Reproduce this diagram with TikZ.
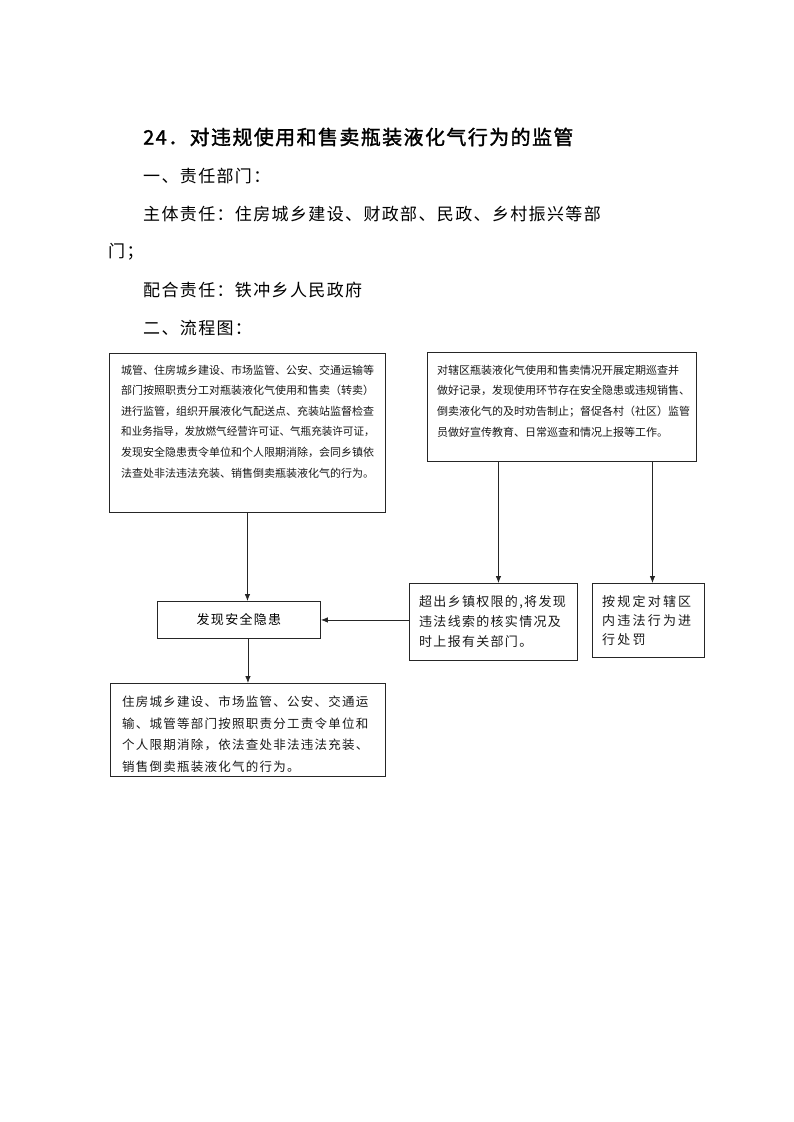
\documentclass[tikz,border=0pt]{standalone}
\usepackage{fontspec}
\usepackage{graphicx}
\usetikzlibrary{arrows.meta}
\setmainfont{Noto Sans CJK SC}
\newfontfamily\fTitle[LetterSpace=7,FakeBold=1.5]{Noto Sans CJK SC}
\newfontfamily\fHead[LetterSpace=8]{Noto Sans CJK SC}
\newfontfamily\fPlain{Noto Sans CJK SC}
\newfontfamily\fWide[LetterSpace=10]{Noto Sans CJK SC}
\newfontfamily\fWider[LetterSpace=17]{Noto Sans CJK SC}
\tikzset{
  box/.style={draw=black!85, line width=0.9pt, rectangle, inner sep=0pt, anchor=north west},
  boxtext/.style={anchor=north west, inner sep=0pt, align=left, text=black!90},
  headline/.style={anchor=west, inner sep=0pt, text=black, font=\fHead\fontsize{17}{20}\selectfont},
  arr/.style={draw=black!85, line width=0.8pt, -{Latex[length=7pt,width=5.5pt]}}
}
\begin{document}
\begin{tikzpicture}[x=1pt,y=-1pt]
\useasboundingbox[fill=white] (0,0) rectangle (793,1122);
% header text
\node[anchor=west, inner sep=0pt, font=\fTitle\fontsize{20}{24}\selectfont] (title) at (143,137) {24．对违规使用和售卖瓶装液化气行为的监管};
\node[headline] (h1) at (143,176) {一、责任部门：};
\node[headline] (h2) at (143,214) {主体责任：住房城乡建设、财政部、民政、乡村振兴等部};
\node[headline] (h3) at (108,252) {门；};
\node[headline] (h4) at (143,290) {配合责任：铁冲乡人民政府};
\node[headline] (h5) at (143,328) {二、流程图：};
% boxes
\node[box, minimum width=276pt, minimum height=159pt] (b1) at (109,353) {};
\node[boxtext, font=\fPlain\fontsize{11}{20.6}\selectfont] (b1t) at (121,364.5) {城管、住房城乡建设、市场监管、公安、交通运输等\\部门按照职责分工对瓶装液化气使用和售卖（转卖）\\进行监管，组织开展液化气配送点、充装站监督检查\\\scalebox{0.96}[1]{和业务指导，发放燃气经营许可证、气瓶充装许可证，}\\发现安全隐患责令单位和个人限期消除，会同乡镇依\\法查处非法违法充装、销售倒卖瓶装液化气的行为。};
\node[box, minimum width=269pt, minimum height=109pt] (b2) at (427,352) {};
\node[boxtext, font=\fPlain\fontsize{11}{20.7}\selectfont] (b2t) at (437,364.5) {对辖区瓶装液化气使用和售卖情况开展定期巡查并\\做好记录，发现使用环节存在安全隐患或违规销售、\\倒卖液化气的及时劝告制止；督促各村（社区）监管\\员做好宣传教育、日常巡查和情况上报等工作。};
\node[box, minimum width=163pt, minimum height=37pt, anchor=north west, font=\fWide\fontsize{13}{16}\selectfont] (b3) at (157,601) {发现安全隐患};
\node[box, minimum width=168pt, minimum height=77pt] (b4) at (409,583) {};
\node[boxtext, font=\fWide\fontsize{13}{20}\selectfont] (b4t) at (419,595.5) {超出乡镇权限的,将发现\\违法线索的核实情况及\\时上报有关部门。};
\node[box, minimum width=112pt, minimum height=74pt] (b5) at (592,583) {};
\node[boxtext, font=\fWider\fontsize{13}{19}\selectfont] (b5t) at (602,595.5) {按规定对辖区\\内违法行为进\\行处罚};
\node[box, minimum width=275pt, minimum height=93pt] (b6) at (110,683) {};
\node[boxtext, font=\fWide\fontsize{12.5}{21.7}\selectfont] (b6t) at (122,695.75) {住房城乡建设、市场监管、公安、交通运\\输、城管等部门按照职责分工责令单位和\\个人限期消除，依法查处非法违法充装、\\销售倒卖瓶装液化气的行为。};
% connectors
\draw[arr] (b1.south) -- (b1.south |- b3.north);
\draw[arr] (b6.north |- b3.south) -- (b6.north);
\draw[arr] ([xshift=5pt]b4.north |- b2.south) -- ([xshift=5pt]b4.north);
\draw[arr] ([xshift=4pt]b5.north |- b2.south) -- ([xshift=4pt]b5.north);
\draw[arr] (b4.west |- b3.east) -- (b3.east);
\end{tikzpicture}
\end{document}
